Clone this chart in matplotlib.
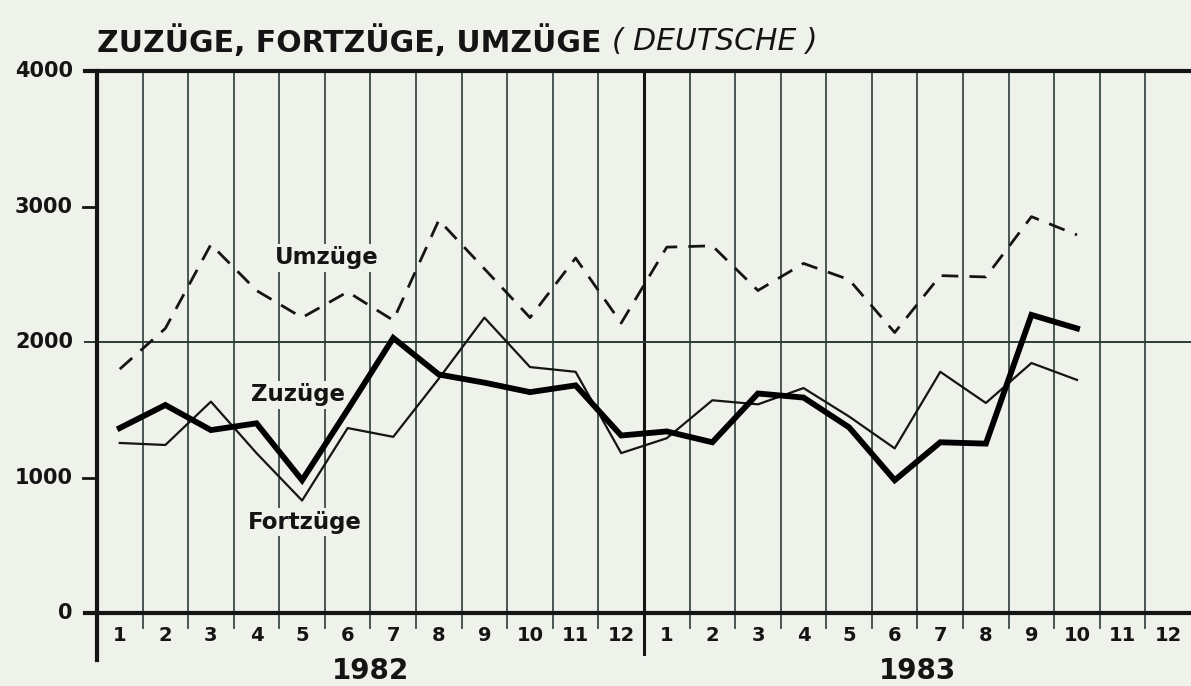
import numpy as np
import matplotlib
matplotlib.use("Agg")
import matplotlib.pyplot as plt

# Monthly values (Deutsche), Jan 1982 - Oct 1983
years = ["1982", "1983"]
month_labels = [str(m) for m in range(1, 13)] * 2
zuzuege = [1365, 1535, 1350, 1400, 980, 1500, 2030, 1760, 1700, 1630, 1680, 1310,
           1340, 1260, 1620, 1590, 1370, 980, 1260, 1250, 2200, 2100]
fortzuege = [1255, 1240, 1560, 1180, 830, 1365, 1300, 1730, 2180, 1815, 1780, 1180,
             1290, 1570, 1540, 1660, 1450, 1215, 1780, 1550, 1845, 1720]
umzuege = [1800, 2100, 2720, 2380, 2180, 2370, 2160, 2900, 2540, 2180, 2620, 2140,
           2700, 2710, 2380, 2580, 2460, 2070, 2490, 2480, 2925, 2790]
y_ticks = [0, 1000, 2000, 3000, 4000]

bg = "#eef2eb"
ink = "#141414"
plt.rcParams['font.family'] = ['DejaVu Sans']

fig = plt.figure(figsize=(11.91, 6.86), dpi=100, facecolor=bg)
ax = fig.add_axes([0.0814, 0.1064, 0.9186, 0.7901], facecolor=bg)
ax.set_xlim(0.5, 24.5)
ax.set_ylim(0, 4000)
for s in ax.spines.values():
    s.set_visible(False)
ax.set_xticks([])
ax.set_yticks([])

x = np.arange(1, len(zuzuege) + 1)

# vertical month grid (extends a little below the zero line)
for b in np.arange(1.5, 24.5, 1.0):
    if b == 12.5:
        ax.axvline(b, ymin=-0.075, ymax=1, color=ink, lw=2.2, clip_on=False, zorder=1)
    else:
        ax.axvline(b, ymin=-0.028, ymax=1, color="#3a4a48", lw=1.3, clip_on=False, zorder=1)

# left axis line, also reaching below zero
ax.axvline(0.5, ymin=-0.087, ymax=1, color=ink, lw=3, clip_on=False, zorder=3)

# horizontal lines
ax.axhline(4000, xmin=-0.011, xmax=1, color=ink, lw=3, clip_on=False, zorder=3)
ax.axhline(0, xmin=-0.011, xmax=1, color=ink, lw=3, clip_on=False, zorder=3)
ax.axhline(2000, xmin=-0.011, xmax=1, color="#2a3a38", lw=1.4, clip_on=False, zorder=1)
for v in [1000, 3000]:
    ax.axhline(v, xmin=-0.013, xmax=0, color=ink, lw=2, clip_on=False)

# y tick labels
for v in y_ticks:
    ax.text(-0.022, v, str(v), transform=ax.get_yaxis_transform(), ha="right", va="center",
            fontsize=15, fontweight="bold", color=ink)

# month and year labels
for i, lab in enumerate(month_labels):
    ax.text(i + 1, -165, lab, ha="center", va="center", fontsize=14, fontweight="bold",
            color=ink, clip_on=False)
ax.text(6.5, -425, years[0], ha="center", va="center", fontsize=20, fontweight="bold",
        color=ink, clip_on=False)
ax.text(18.5, -425, years[1], ha="center", va="center", fontsize=20, fontweight="bold",
        color=ink, clip_on=False)

# series
ax.plot(x, umzuege, color=ink, lw=2, dashes=(6, 4), zorder=4)
ax.plot(x, fortzuege, color=ink, lw=1.6, zorder=4)
ax.plot(x, zuzuege, color="black", lw=4.2, zorder=5, solid_joinstyle="miter")

# inline series names (background box cuts the grid lines)
box = dict(facecolor=bg, edgecolor="none", pad=2)
ax.text(5.55, 2620, "Umzüge", ha="center", va="center", fontsize=16.5, fontweight="bold",
        color=ink, bbox=box, zorder=2)
ax.text(4.9, 1610, "Zuzüge", ha="center", va="center", fontsize=16.5, fontweight="bold",
        color=ink, bbox=box, zorder=2)
ax.text(5.07, 670, "Fortzüge", ha="center", va="center", fontsize=16.5, fontweight="bold",
        color=ink, bbox=box, zorder=2)

# title
t = fig.text(0.0814, 0.939, "ZUZÜGE, FORTZÜGE, UMZÜGE ", ha="left", va="center",
             fontsize=21.5, fontweight="bold", color=ink)
fig.canvas.draw()
bb = t.get_window_extent()
fig.text(bb.x1 / fig.bbox.width, 0.939, "( DEUTSCHE )", ha="left", va="center",
         fontsize=21.5, style="italic", color=ink)

fig.savefig("out.png", dpi=100, facecolor=bg)
